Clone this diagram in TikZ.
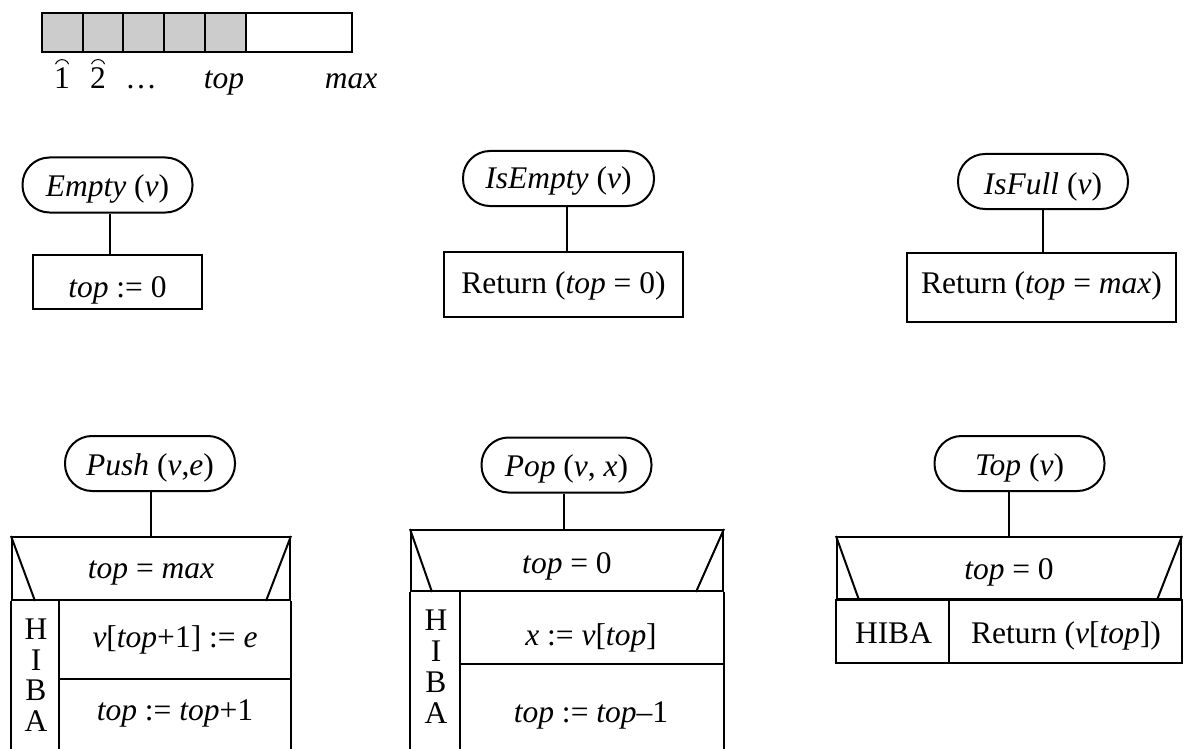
\documentclass[tikz,border=0pt]{standalone}
\usepackage{fontspec}
\setmainfont{Liberation Serif}
\usetikzlibrary{calc}
\begin{document}
\begin{tikzpicture}[x=1pt,y=-1pt,line width=2pt,
  every node/.style={inner sep=0pt,font=\fontsize{31.5}{30.5}\selectfont},
  proc/.style={draw,rounded corners=27pt,minimum width=170pt,minimum height=55pt,
    text height=23pt,text depth=0pt},
  stmt/.style={draw,text depth=0pt},
  cond/.style={draw,text depth=0pt},
  lbl/.style={anchor=base},
  vert/.style={align=center},
  hat/.style={line width=1pt},
  cell/.style={draw,fill=gray!40}]
\path[use as bounding box,fill=white] (0,0) rectangle (1184,749);

% --- the array: filled cells up to top, free space up to max
\foreach \a/\b in {42/83,83/123,123/164,164/205,205/246}
  \draw[cell] (\a,13) rectangle (\b,52);
\draw (246,13) rectangle (352,52);
\node[lbl] (n1) at (62,89) {1};
\node[lbl] (n2) at (98,89) {2};
\node[lbl] (ndots) at (141,89) {…};
\node[lbl] (ntop) at (224,89) {\textit{top}};
\node[lbl] (nmax) at (351,89) {\textit{max}};
\draw[hat] ($(n1.north)+(-6.5,-3)$) arc[start angle=160,end angle=20,radius=7pt];
\draw[hat] ($(n2.north)+(-6.5,-3)$) arc[start angle=160,end angle=20,radius=7pt];

% --- Empty
\node[proc] (empty) at (107.5,185) {\textit{Empty} (\textit{v})};
\node[stmt,minimum width=169pt,minimum height=54pt,text height=30pt] (emptyb)
  at (117.5,282) {\textit{top} := 0};
\draw ([xshift=2.5pt]empty.south) -- ([xshift=2.5pt]empty.south |- emptyb.north);

% --- IsEmpty
\node[proc,minimum width=191pt,text height=20pt] (isempty) at (558.5,178.5)
  {\textit{IsEmpty} (\textit{v})};
\node[stmt,minimum width=239pt,minimum height=65pt,text height=17pt] (isemptyb)
  at (563.5,284.5) {Return (\textit{top} = 0)};
\draw ([xshift=8.5pt]isempty.south) -- ([xshift=8.5pt]isempty.south |- isemptyb.north);

% --- IsFull
\node[proc,text height=27pt] (isfull) at (1043,181.5) {\textit{IsFull} (\textit{v})};
\node[stmt,minimum width=269pt,minimum height=69pt,text height=11pt] (isfullb)
  at (1041.5,287.5) {Return (\textit{top} = \textit{max})};
\draw (isfull.south) -- (isfull.south |- isfullb.north);

% --- Push
\node[proc] (push) at (150,463.5) {\textit{Push} (\textit{v},\textit{e})};
\node[cond,minimum width=278pt,minimum height=63pt,text height=19pt] (pushc)
  at (151,568.5) {\textit{top} = \textit{max}};
\draw ([xshift=1pt]push.south) -- ([xshift=1pt]push.south |- pushc.north);
\draw (pushc.north west) -- ($(pushc.south west)+(24,0)$);
\draw (pushc.north east) -- ($(pushc.south east)+(-25,0)$);
\draw (pushc.south west) -- ++(0,149);
\draw (pushc.south east) -- ++(0,149);
\draw ($(pushc.south west)+(48,0)$) -- ++(0,149);
\draw ($(pushc.south west)+(48,78)$) -- ($(pushc.south east)+(0,78)$);
\node[vert] (pushh) at (36,675) {H\\I\\B\\A};
\node[lbl] (pusha) at (175,647) {\textit{v}[\textit{top}+1] := \textit{e}};
\node[lbl] (pushb) at (175,720) {\textit{top} := \textit{top}+1};

% --- Pop
\node[proc] (pop) at (566.5,465) {\textit{Pop} (\textit{v}, \textit{x})};
\node[cond,minimum width=312pt,minimum height=61pt,text height=25pt] (popc)
  at (567,560.5) {\textit{top} = 0};
\draw ([xshift=-2.5pt]pop.south) -- ([xshift=-2.5pt]pop.south |- popc.north);
\draw (popc.north west) -- ($(popc.south west)+(22,0)$);
\draw (popc.north east) -- ($(popc.south east)+(-28,0)$);
\draw (popc.south west) -- ++(0,158);
\draw (popc.south east) -- ++(0,158);
\draw ($(popc.south west)+(50,0)$) -- ++(0,158);
\draw ($(popc.south west)+(50,72)$) -- ($(popc.south east)+(0,72)$);
\node[vert,font=\fontsize{31.5}{31}\selectfont] (poph) at (436,666.5) {H\\I\\B\\A};
\node[lbl] (popa) at (591,645) {\textit{x} := \textit{v}[\textit{top}]};
\node[lbl] (popb) at (591,722) {\textit{top} := \textit{top}–1};

% --- Top
\node[proc] (topop) at (1019.5,463.5) {\textit{Top} (\textit{v})};
\node[cond,minimum width=344pt,minimum height=62pt,text height=22pt] (topc)
  at (1009,568) {\textit{top} = 0};
\draw ([xshift=-10.5pt]topop.south) -- ([xshift=-10.5pt]topop.south |- topc.north);
\draw (topc.north west) -- ($(topc.south west)+(23,0)$);
\draw (topc.north east) -- ($(topc.south east)+(-25,0)$);
\draw (topc.south west) rectangle ($(topc.south east)+(0,63)$);
\draw ($(topc.south west)+(113,0)$) -- ++(0,63);
\node (toph) at (893.5,633) {HIBA};
\node[lbl] (topa) at (1066,643) {Return (\textit{v}[\textit{top}])};
\end{tikzpicture}
\end{document}
